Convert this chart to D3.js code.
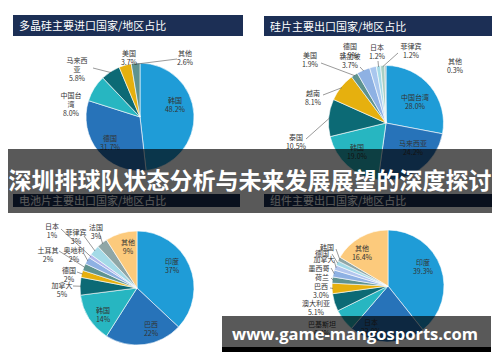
<!DOCTYPE html>
<html>
<head>
<meta charset="utf-8">
<script src="https://cdn.jsdelivr.net/npm/d3@7.9.0/dist/d3.min.js"></script>
<style>
  body { margin: 0; background: #fff; }
  svg { display: block; }
</style>
</head>
<body>
<div id="chart"></div>
<script>
// ---- data ----
const titles = ['多晶硅主要进口国家/地区占比', '硅片主要出口国家/地区占比', '电池片主要出口国家/地区占比', '组件主要出口国家/地区占比'];

const polyNames = ['韩国', '德国', '中国台湾', '马来西亚', '美国', '其他'];
const polyValues = [48.2, 31.7, 8.0, 5.8, 3.7, 2.6];

const waferNames = ['中国台湾', '马来西亚', '韩国', '泰国', '越南', '美国', '新加坡', '德国', '日本', '菲律宾', '其他'];
const waferValues = [28.0, 24.2, 19.0, 10.5, 8.1, 1.9, 3.7, 1.9, 1.2, 1.2, 0.3];

const cellNames = ['印度', '巴西', '韩国', '加拿大', '德国', '土耳其', '奥地利', '日本', '菲律宾', '法国', '其他'];
const cellValues = [37, 22, 14, 5, 2, 2, 2, 1, 3, 3, 9];

const moduleNames = ['印度', '日本', '巴基斯坦', '澳大利亚', '巴西', '荷兰', '墨西哥', '加拿大', '德国', '韩国', '其他'];
const moduleValues = [39.3, 22.0, 6.4, 5.1, 3.0, 1.8, 2.0, 1.5, 1.3, 1.2, 16.4];

const bannerText = '深圳排球队状态分析与未来发展展望的深度探讨';
const urlText = 'www.game-mangosports.com';

// ---- colours ----
const blue = '#1f9cd7', dblue = '#2773b9', teal = '#27b6c1', dteal = '#0c6a75',
      gold = '#e6b00e', gteal = '#5e938f', peri = '#8eb1e3', lcyan = '#a4dae7',
      grey = '#8fa6a6', peach = '#fcca7c', lgreen = '#a9cfc4';

const polyColors = [blue, dblue, teal, dteal, gold, gteal];
const waferColors = [blue, dblue, teal, dteal, gold, gteal, peri, '#a9c7ee', lcyan, lgreen, grey];
const cellColors = [blue, dblue, teal, dteal, gold, gteal, peri, '#b3b8ec', lcyan, grey, peach];
const moduleColors = [blue, dblue, teal, dteal, gold, gteal, peri, '#b3c6ee', lcyan, grey, peach];

// ---- label layout (x, y of first text line, optional leader start) ----
const polyLayout = [
  { x: 175, y: 100 }, { x: 110, y: 138 },
  { x: 71, y: 95, wrap: 3 }, { x: 77, y: 60, wrap: 3, lx: 93, ly: 68 },
  { x: 129, y: 53 }, { x: 185, y: 53, lx: 177, ly: 59 }
];
const waferLayout = [
  { x: 415, y: 97 }, { x: 413, y: 143 }, { x: 357, y: 147 },
  { x: 296, y: 137, lx: 306, ly: 139 }, { x: 313, y: 93, lx: 323, ly: 95 },
  { x: 310, y: 55, lx: 321, ly: 63 }, { x: 350, y: 56, lx: 360, ly: 67 },
  { x: 350, y: 46 }, { x: 377, y: 47, lx: 378, ly: 61 },
  { x: 411, y: 46, lx: 398, ly: 53 }, { x: 455, y: 61 }
];
const cellLayout = [
  { x: 172, y: 261 }, { x: 151, y: 324 }, { x: 103, y: 310 },
  { x: 62, y: 285, lx: 73, ly: 286 }, { x: 69, y: 270, lx: 77, ly: 272 },
  { x: 48, y: 250, lx: 59, ly: 251 }, { x: 74, y: 250, lx: 84, ly: 254 },
  { x: 52, y: 226, lx: 61, ly: 229 }, { x: 76, y: 232, lx: 84, ly: 236 },
  { x: 96, y: 227, lx: 99, ly: 232 }, { x: 128, y: 242 }
];
const moduleLayout = [
  { x: 423, y: 262 }, { x: 371, y: 322 }, { x: 322, y: 324 },
  { x: 316, y: 303 }, { x: 321, y: 286, lx: 330, ly: 288 },
  { x: 322, y: 277, lx: 331, ly: 278, noPct: true }, { x: 319, y: 268, lx: 331, ly: 268, noPct: true },
  { x: 324, y: 259, lx: 334, ly: 260, noPct: true }, { x: 322, y: 253, lx: 332, ly: 254, noPct: true },
  { x: 327, y: 247, lx: 336, ly: 249, noPct: true }, { x: 362, y: 248 }
];

const W = 500, H = 362;
const svg = d3.select('#chart').append('svg')
  .attr('width', W).attr('height', H)
  .attr('viewBox', `0 0 ${W} ${H}`);

svg.append('rect').attr('width', W).attr('height', H).attr('fill', '#fff');

const cjk = '"Noto Sans CJK SC", "Noto Sans", sans-serif';

// title bars
const bars = [
  { x: 13, y: 15, w: 230, h: 21, tx: 19 },
  { x: 264, y: 16, w: 228, h: 20, tx: 270 },
  { x: 13, y: 194, w: 227, h: 13, tx: 19 },
  { x: 264, y: 194, w: 228, h: 13, tx: 270 }
];
bars.forEach((b, i) => {
  svg.append('rect').attr('x', b.x).attr('y', b.y).attr('width', b.w).attr('height', b.h)
    .attr('fill', '#1c2f55');
  svg.append('text').attr('x', b.tx).attr('y', b.y + (i < 2 ? 15 : 11))
    .attr('fill', '#fff').attr('font-family', cjk).attr('font-size', 11)
    .text(titles[i]);
});

function drawPie(names, values, colors, layout, cx, cy, r, fmt) {
  const data = names.map((n, i) => ({ name: n, value: values[i], color: colors[i], lay: layout[i] }));
  const pie = d3.pie().sort(null).value(d => d.value);
  const arcs = pie(data);
  const arc = d3.arc().innerRadius(0).outerRadius(r);
  const g = svg.append('g').attr('transform', `translate(${cx},${cy})`);

  g.selectAll('path').data(arcs).join('path')
    .attr('d', arc)
    .attr('fill', d => d.data.color)
    .attr('stroke', '#fff').attr('stroke-width', 0.6);

  // leader lines
  arcs.forEach(a => {
    const L = a.data.lay;
    if (L.lx === undefined) return;
    const mid = (a.startAngle + a.endAngle) / 2;
    svg.append('line')
      .attr('x1', L.lx).attr('y1', L.ly)
      .attr('x2', cx + Math.sin(mid) * (r - 1)).attr('y2', cy - Math.cos(mid) * (r - 1))
      .attr('stroke', '#555').attr('stroke-width', 0.6);
  });

  // labels
  arcs.forEach(a => {
    const L = a.data.lay;
    const lines = [];
    const n = a.data.name;
    if (L.wrap) {
      for (let k = 0; k < n.length; k += L.wrap) lines.push(n.slice(k, k + L.wrap));
    } else lines.push(n);
    if (!L.noPct) lines.push(fmt(a.data.value));
    const t = svg.append('text')
      .attr('font-family', cjk).attr('font-size', 7)
      .attr('fill', '#333').attr('text-anchor', 'middle');
    lines.forEach((s, k) => {
      t.append('tspan').attr('x', L.x).attr('y', L.y + k * 9.2 + 2.5).text(s);
    });
  });
}

const f1 = v => d3.format('.1f')(v) + '%';
const f0 = v => d3.format('d')(v) + '%';

drawPie(polyNames, polyValues, polyColors, polyLayout, 140, 117, 54, f1);
drawPie(waferNames, waferValues, waferColors, waferLayout, 386, 123, 57.5, f1);
drawPie(cellNames, cellValues, cellColors, cellLayout, 137, 288, 57, f0);
drawPie(moduleNames, moduleValues, moduleColors, moduleLayout, 388, 286, 56, f1);

// banner overlay
svg.append('rect').attr('x', 8).attr('y', 149).attr('width', 484).attr('height', 64)
  .attr('fill', 'rgba(0,0,0,0.65)');
svg.append('text').attr('x', 250).attr('y', 189)
  .attr('text-anchor', 'middle')
  .attr('font-family', cjk).attr('font-weight', 'bold').attr('font-size', 23)
  .attr('fill', '#fff')
  .text(bannerText);

// url box
svg.append('rect').attr('x', 222).attr('y', 316).attr('width', 269).attr('height', 31)
  .attr('fill', 'rgba(0,0,0,0.65)');
svg.append('rect').attr('x', 222).attr('y', 347).attr('width', 269).attr('height', 5)
  .attr('fill', '#000');
svg.append('text').attr('x', 232).attr('y', 340)
  .attr('font-family', '"Open Sans", "DejaVu Sans", sans-serif')
  .attr('font-weight', 'bold').attr('font-size', 16.5)
  .attr('textLength', 246).attr('lengthAdjust', 'spacingAndGlyphs')
  .attr('fill', '#fff')
  .text(urlText);
</script>
</body>
</html>
